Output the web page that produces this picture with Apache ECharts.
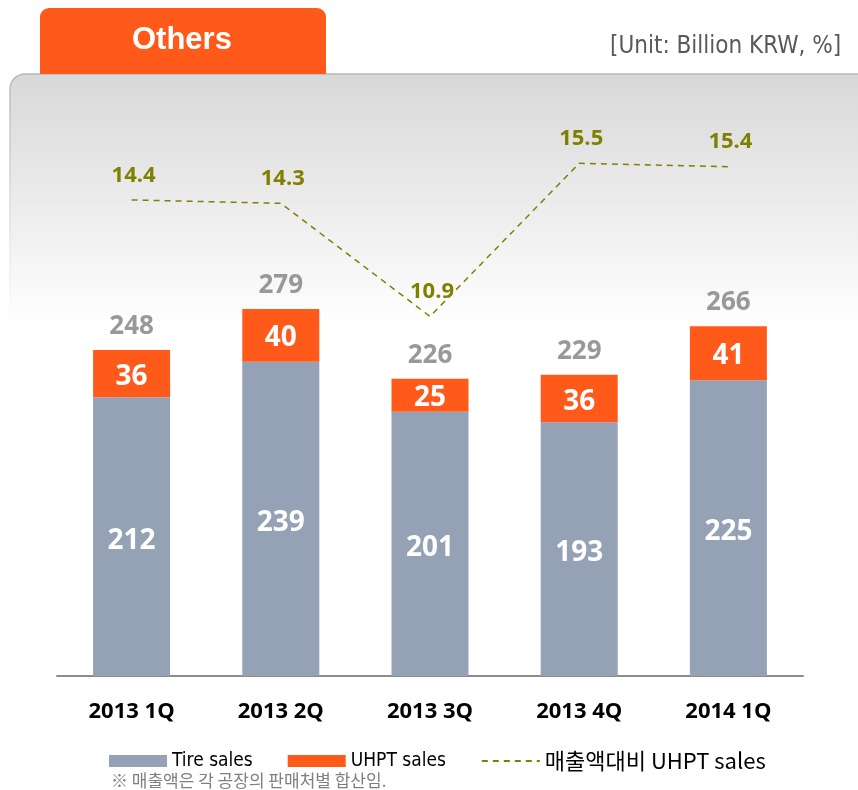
<!DOCTYPE html>
<html>
<head>
<meta charset="utf-8">
<script src="https://cdn.jsdelivr.net/npm/echarts@6/dist/echarts.min.js"></script>
<style>
  html, body { margin: 0; padding: 0; background: #fff; }
  #main { width: 858px; height: 790px; }
</style>
</head>
<body>
<div id="main"></div>
<script>
var quarters = ['2013 1Q', '2013 2Q', '2013 3Q', '2013 4Q', '2014 1Q'];
var tireSales = [212, 239, 201, 193, 225];
var uhptSales = [36, 40, 25, 36, 41];
var totalSales = [248, 279, 226, 229, 266];
var uhptRatio = [14.4, 14.3, 10.9, 15.5, 15.4];

var chart = echarts.init(document.getElementById('main'));

var boldNum = "'Open Sans', 'Noto Sans', sans-serif";
var narrow = "'Liberation Sans Narrow', 'DejaVu Sans Condensed', 'Noto Sans CJK KR', sans-serif";

chart.setOption({
	animation: false,
	graphic: [
		{
			type: 'rect', z: -10,
			shape: { x: 10, y: 74, width: 900, height: 252, r: [15, 0, 0, 0] },
			style: {
				fill: new echarts.graphic.LinearGradient(0, 0, 0, 1, [
					{ offset: 0, color: '#d8d8d8' },
					{ offset: 1, color: '#ffffff' }
				]),
				stroke: new echarts.graphic.LinearGradient(0, 0, 0, 1, [
					{ offset: 0, color: '#b8b8b8' },
					{ offset: 1, color: '#ffffff' }
				]),
				lineWidth: 1.5
			}
		},
		{
			type: 'rect', z: 5,
			shape: { x: 40, y: 8, width: 286, height: 66, r: [9, 9, 0, 0] },
			style: { fill: '#ff5a1a' }
		},
		{
			type: 'text', z: 6, left: 132, top: 25,
			style: { text: 'Others', fill: '#fff', font: "bold 31px 'Liberation Sans', Arial, sans-serif" }
		},
		{
			type: 'text', z: 6, left: 610, top: 35,
			style: { text: '[Unit: Billion KRW, %]', fill: '#595959', font: "24px " + narrow }
		},
		{
			type: 'text', z: 6, left: 111, top: 772,
			style: { text: '※ 매출액은 각 공장의 판매처별 합산임.', fill: '#7f7f7f', font: "17px 'Noto Sans CJK KR', sans-serif" }
		}
	],
	legend: {
		left: 104,
		top: 745,
		itemWidth: 58,
		itemHeight: 12,
		itemGap: 35,
		textStyle: { fontSize: 19, color: '#000', fontFamily: narrow },
		data: [
			{ name: 'Tire sales', icon: 'rect' },
			{ name: 'UHPT sales', icon: 'rect' },
			{ name: '매출액대비 UHPT sales', textStyle: { fontSize: 22, fontFamily: "'Noto Sans CJK KR', sans-serif" } }
		]
	},
	grid: { left: 57, right: 55, top: 150, bottom: 114 },
	xAxis: {
		type: 'category',
		data: quarters,
		axisLine: { lineStyle: { color: '#8c8c8c', width: 2 } },
		axisTick: { show: false },
		axisLabel: { margin: 25, fontSize: 22, fontWeight: 'bold', color: '#000', fontFamily: boldNum }
	},
	yAxis: [
		{ type: 'value', min: 0, max: 400, show: false, splitLine: { show: false } },
		{ type: 'value', min: 0.1, max: 15.9, show: false, splitLine: { show: false } }
	],
	series: [
		{
			name: 'Tire sales',
			type: 'bar',
			stack: 'sales',
			barWidth: 77,
			data: tireSales,
			itemStyle: { color: '#95a1b5' },
			label: { show: true, position: 'inside', offset: [0, 4], color: '#fff', fontSize: 28, fontWeight: 'bold', fontFamily: boldNum }
		},
		{
			name: 'UHPT sales',
			type: 'bar',
			stack: 'sales',
			barWidth: 77,
			data: uhptSales,
			itemStyle: { color: '#ff5a1a' },
			label: { show: true, position: 'inside', offset: [0, 3], color: '#fff', fontSize: 28, fontWeight: 'bold', fontFamily: boldNum }
		},
		{
			name: 'total',
			type: 'scatter',
			data: totalSales,
			symbolSize: 1,
			itemStyle: { color: 'rgba(0,0,0,0)' },
			label: { show: true, position: 'top', distance: 10, color: '#7f7f7f', fontSize: 26, fontWeight: 'bold', fontFamily: boldNum },
			silent: true
		},
		{
			name: '매출액대비 UHPT sales',
			type: 'line',
			yAxisIndex: 1,
			data: uhptRatio,
			symbol: 'circle',
			symbolSize: 1,
			itemStyle: { color: 'rgba(0,0,0,0)' },
			lineStyle: { color: '#7f7f00', width: 1.5, type: [6, 5] },
			label: { show: true, position: 'top', distance: 13, offset: [2, 0], color: '#808000', fontSize: 22, fontWeight: 'bold', fontFamily: boldNum }
		}
	]
});
</script>
</body>
</html>
